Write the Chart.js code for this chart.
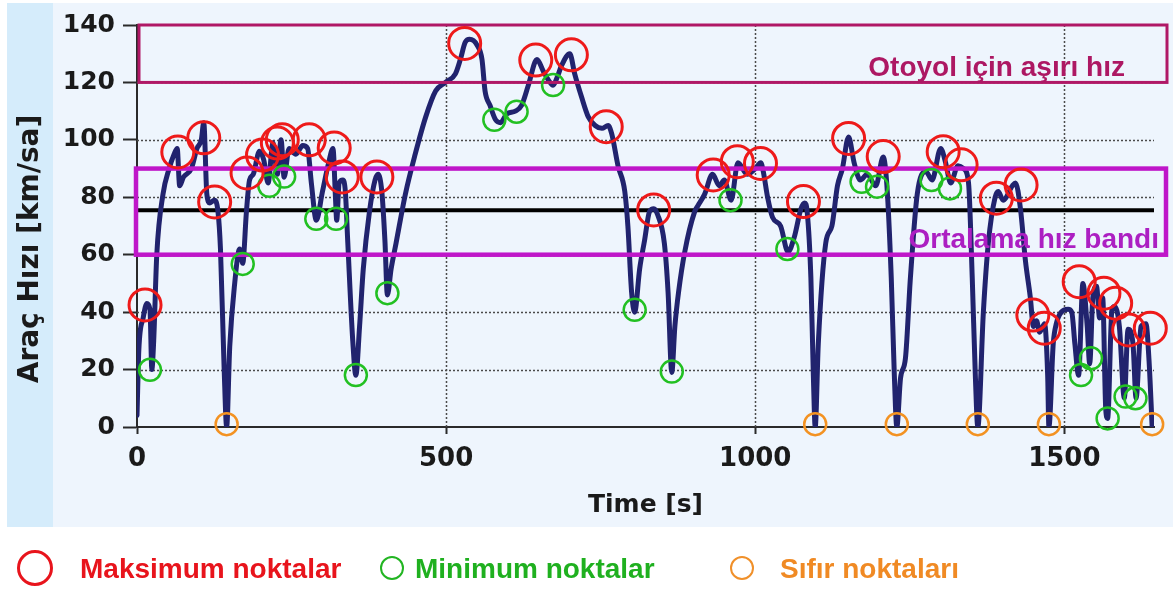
<!DOCTYPE html>
<html>
<head>
<meta charset="utf-8">
<script src="https://cdn.jsdelivr.net/npm/chart.js@4.4.1/dist/chart.umd.min.js"></script>
<style>
  html, body { margin: 0; padding: 0; background: #ffffff; }
  #wrap { position: relative; width: 1173px; height: 592px; overflow: hidden; }
  #c { display: block; }
  .lg-ring { position: absolute; border-radius: 50%; box-sizing: border-box; }
  .lg-text { position: absolute; top: 553px; height: 30px; line-height: 30px;
             font: bold 28px "Liberation Sans", Arial, sans-serif; white-space: nowrap; }
</style>
</head>
<body>
<div id="wrap">
  <canvas id="c" width="1173" height="592"></canvas>
  <div class="lg-ring" style="left:17px;top:550px;width:36px;height:36px;border:3px solid #e8141c;"></div>
  <div class="lg-text" style="left:80px;color:#e8141c;">Maksimum noktalar</div>
  <div class="lg-ring" style="left:380px;top:556px;width:24px;height:24px;border:2.5px solid #22b522;"></div>
  <div class="lg-text" style="left:415px;color:#1fb01f;">Minimum noktalar</div>
  <div class="lg-ring" style="left:730px;top:556px;width:24px;height:24px;border:2.5px solid #f0902a;"></div>
  <div class="lg-text" style="left:780px;color:#f08a24;">Sıfır noktaları</div>
</div>
<script>
// Vehicle speed trace [s, km/sa]
const timeS = [
  0, 3, 10, 16, 21, 24, 27, 32, 42, 52, 60, 65, 69, 75, 88, 97, 104, 108, 113, 118,
  125, 131, 135, 141, 145, 150, 158, 166, 171, 177, 182, 188, 198, 205, 212, 220, 227, 233, 238, 246,
  257, 268, 276, 282, 290, 300, 310, 317, 321, 323, 327, 333, 337, 341, 349, 354, 360, 366, 376, 385,
  390, 396, 401, 405, 411, 419, 434, 450, 467, 483, 499, 515, 523, 531, 538, 550, 558, 563, 571, 580,
  588, 598, 612, 622, 633, 647, 657, 665, 673, 680, 687, 700, 708, 719, 730, 741, 752, 762, 768, 778,
  789, 794, 800, 805, 813, 821, 829, 836, 842, 853, 859, 865, 870, 876, 886, 902, 907, 918, 931, 942,
  950, 961, 972, 987, 1000, 1009, 1013, 1020, 1028, 1041, 1053, 1063, 1074, 1080, 1084, 1090, 1094, 1097, 1102, 1114,
  1124, 1133, 1141, 1151, 1160, 1170, 1181, 1195, 1207, 1213, 1220, 1225, 1229, 1235, 1243, 1251, 1262, 1276, 1286, 1300,
  1308, 1316, 1328, 1337, 1345, 1351, 1356, 1360, 1369, 1377, 1388, 1393, 1401, 1416, 1421, 1429, 1437, 1445, 1450, 1455,
  1460, 1468, 1473, 1475, 1482, 1487, 1495, 1506, 1512, 1517, 1523, 1530, 1537, 1541, 1546, 1552, 1557, 1562, 1567, 1570,
  1577, 1581, 1589, 1597, 1603, 1611, 1616, 1624, 1632, 1637, 1642
];
const speedKmh = [
  4, 27, 38, 43, 41, 20, 30, 60, 81, 90, 95, 97, 84, 87, 90, 97, 100, 106, 81, 78,
  79, 75, 62, 20, 0, 28, 50, 62, 57, 75, 86, 88, 96, 93, 85, 99, 88, 100, 87, 97,
  95, 98, 97, 85, 72, 82, 92, 97, 80, 72, 85, 86, 82, 64, 30, 18, 35, 55, 75, 86,
  88, 82, 65, 46, 55, 64, 81, 95, 108, 117, 120, 123, 128, 134, 135, 133, 128, 117, 112, 107,
  106, 109, 110, 112, 119, 128, 124, 121, 119, 122, 126, 130, 123, 115, 108, 105, 104, 105, 102, 91,
  82, 70, 47, 40, 55, 65, 75, 76, 74, 64, 47, 19, 35, 47, 61, 75, 77, 81, 88, 84,
  86, 79, 92, 88, 90, 92, 89, 80, 73, 70, 61, 66, 76, 78, 75, 52, 18, 0, 29, 64,
  70, 84, 90, 101, 92, 86, 88, 84, 94, 84, 52, 18, 0, 17, 24, 52, 81, 89, 86, 97,
  92, 85, 91, 90, 85, 52, 18, 0, 40, 64, 80, 82, 79, 84, 85, 76, 58, 45, 35, 37,
  33, 36, 18, 0, 29, 36, 40, 41, 40, 29, 18, 50, 35, 22, 45, 49, 38, 45, 6, 3,
  41, 42, 35, 10, 34, 29, 10, 35, 36, 23, 0
];

// Detected extrema
const maxPointT = [13, 66, 108, 125.6, 178, 203, 227, 235, 278.6, 319, 332, 388, 530, 645, 702.6, 759, 835.7,
  932, 971, 1008.5, 1078, 1151, 1207, 1304, 1333, 1390, 1430, 1449, 1467.5, 1524, 1564, 1583, 1604, 1639];
const maxPointV = [42.5, 95.8, 100.7, 78.4, 88.5, 94.7, 98.9, 100, 100, 97.2, 87.1, 87.1, 133.6, 127.8, 129.6, 104.6, 75.6,
  87.8, 92.4, 91.8, 78.5, 100.5, 94.2, 95.9, 91.3, 79.7, 84.3, 39, 34.4, 50.6, 46.6, 43.1, 33.8, 34.4];
const minPointT = [21, 171, 214, 238, 290, 322, 354, 405, 578, 614, 673, 805, 865, 960, 1052, 1172, 1197, 1285, 1315,
  1527, 1543, 1570, 1599, 1615];
const minPointV = [19.9, 56.8, 84, 87.2, 72.5, 72.5, 18.1, 46.6, 107, 109.8, 119.1, 40.8, 19.3, 79, 62, 85.4, 83.7, 86, 83.1,
  18.1, 23.9, 3, 10.6, 10];
const zeroPointT = [145, 1097, 1229, 1360, 1475, 1642];
const zeroPointV = [1, 1, 1, 1, 1, 1];

// Reference levels
const meanSpeed = 75.5;
const avgBand = [60, 90];
const highwayBand = [120, 140];

// Axes
const xMax = 1645;
const xTicks = [0, 500, 1000, 1500];
const yTicks = [0, 20, 40, 60, 80, 100, 120, 140];
const xGridValues = [500, 1000, 1500];
const yGridValues = [20, 40, 60, 80, 100, 120];

const xTitle = 'Time [s]';
const yTitle = 'Araç Hızı [km/sa]';
const highwayLabel = 'Otoyol için aşırı hız';
const bandLabel = 'Ortalama hız bandı';

const zip = (xs, ys) => xs.map((x, i) => ({ x: x, y: ys[i] }));

const tickFont = '"DejaVu Sans", Verdana, sans-serif';

const backdrop = {
  id: 'backdrop',
  beforeDraw(chart) {
    const ctx = chart.ctx;
    ctx.save();
    ctx.fillStyle = '#ffffff';
    ctx.fillRect(0, 0, chart.width, chart.height);
    ctx.fillStyle = '#eef5fd';
    ctx.fillRect(7, 3, chart.width - 7, 524);
    ctx.fillStyle = '#d5ecfb';
    ctx.fillRect(7, 3, 46, 524);
    ctx.restore();
  },
  beforeDatasetsDraw(chart) {
    const ctx = chart.ctx, xs = chart.scales.x, ys = chart.scales.y, a = chart.chartArea;
    ctx.save();
    ctx.strokeStyle = '#4a4a4a';
    ctx.lineWidth = 1.5;
    ctx.setLineDash([2, 2]);
    yGridValues.forEach(v => {
      const y = Math.round(ys.getPixelForValue(v)) + 0.5;
      ctx.beginPath(); ctx.moveTo(a.left, y); ctx.lineTo(a.right, y); ctx.stroke();
    });
    xGridValues.forEach(v => {
      const x = Math.round(xs.getPixelForValue(v)) + 0.5;
      ctx.beginPath(); ctx.moveTo(x, a.top); ctx.lineTo(x, a.bottom); ctx.stroke();
    });
    ctx.restore();
  },
  afterDatasetDraw(chart, args) {
    // reference boxes sit on top of the speed trace, below the extrema rings
    if (chart.data.datasets[args.index].label !== 'Hız') return;
    const ctx = chart.ctx, xs = chart.scales.x, ys = chart.scales.y, a = chart.chartArea;
    ctx.save();
    // highway over-speed box
    const hTop = ys.getPixelForValue(highwayBand[1]);
    const hBot = ys.getPixelForValue(highwayBand[0]);
    const hLeft = xs.getPixelForValue(0) + 2;
    const hRight = a.right + 13;
    ctx.strokeStyle = '#b01866';
    ctx.lineWidth = 3;
    ctx.strokeRect(hLeft, hTop, hRight - hLeft, hBot - hTop);
    ctx.fillStyle = '#ad1863';
    ctx.font = 'bold 28px "Liberation Sans", Arial, sans-serif';
    ctx.textAlign = 'right';
    ctx.textBaseline = 'alphabetic';
    ctx.fillText(highwayLabel, hRight - 42, hBot - 6);
    // average speed band
    const bTop = ys.getPixelForValue(avgBand[1]);
    const bBot = ys.getPixelForValue(avgBand[0]);
    const bLeft = xs.getPixelForValue(0) - 1;
    const bRight = a.right + 12;
    ctx.strokeStyle = '#bf16c9';
    ctx.lineWidth = 4.5;
    ctx.strokeRect(bLeft, bTop, bRight - bLeft, bBot - bTop);
    ctx.fillStyle = '#ac1fc2';
    ctx.fillText(bandLabel, bRight - 7, bBot - 7);
    ctx.restore();
  },
  afterDraw(chart) {
    const ctx = chart.ctx, a = chart.chartArea;
    ctx.save();
    ctx.fillStyle = '#1a1a1a';
    ctx.textAlign = 'center';
    ctx.textBaseline = 'middle';
    ctx.font = 'bold 25px ' + tickFont;
    ctx.fillText(xTitle, (a.left + a.right) / 2, 505);
    ctx.font = 'bold 28px ' + tickFont;
    ctx.translate(31, 249);
    ctx.rotate(-Math.PI / 2);
    ctx.fillText(yTitle, 0, 0);
    ctx.restore();
  }
};

new Chart(document.getElementById('c'), {
  type: 'line',
  data: {
    datasets: [
      {
        label: 'Maksimum noktalar',
        data: zip(maxPointT, maxPointV),
        showLine: false,
        pointRadius: 16,
        pointHoverRadius: 16,
        pointBorderWidth: 3,
        pointBorderColor: '#ee1a1a',
        pointBackgroundColor: 'rgba(0,0,0,0)',
        clip: false,
        order: 0
      },
      {
        label: 'Minimum noktalar',
        data: zip(minPointT, minPointV),
        showLine: false,
        pointRadius: 11,
        pointHoverRadius: 11,
        pointBorderWidth: 2.5,
        pointBorderColor: '#22c022',
        pointBackgroundColor: 'rgba(0,0,0,0)',
        clip: false,
        order: 1
      },
      {
        label: 'Sıfır noktaları',
        data: zip(zeroPointT, zeroPointV),
        showLine: false,
        pointRadius: 11,
        pointHoverRadius: 11,
        pointBorderWidth: 2.5,
        pointBorderColor: '#f39222',
        pointBackgroundColor: 'rgba(0,0,0,0)',
        clip: false,
        order: 2
      },
      {
        label: 'Hız',
        data: zip(timeS, speedKmh),
        borderColor: '#21236e',
        borderWidth: 5,
        pointRadius: 0,
        cubicInterpolationMode: 'monotone',
        borderJoinStyle: 'round',
        borderCapStyle: 'round',
        order: 3
      },
      {
        label: 'Ortalama',
        data: [{ x: 0, y: meanSpeed }, { x: xMax, y: meanSpeed }],
        borderColor: '#000000',
        borderWidth: 4,
        pointRadius: 0,
        order: 4
      }
    ]
  },
  options: {
    responsive: false,
    devicePixelRatio: 1,
    animation: false,
    events: [],
    layout: { padding: { left: 0, right: 15, top: 25, bottom: 65 } },
    plugins: { legend: { display: false }, tooltip: { enabled: false } },
    scales: {
      x: {
        type: 'linear',
        min: 0,
        max: xMax,
        afterBuildTicks: s => { s.ticks = xTicks.map(v => ({ value: v })); },
        afterFit: s => { s.height = 100; },
        grid: { drawOnChartArea: false, drawTicks: true, tickLength: 7, tickColor: '#2a2a2a', tickWidth: 2 },
        border: { display: true, color: '#2a2a2a', width: 2 },
        ticks: { color: '#1a1a1a', padding: 10, maxRotation: 0, callback: v => String(v),
                 font: { family: tickFont, size: 26, weight: 'bold' } }
      },
      y: {
        type: 'linear',
        min: 0,
        max: 140,
        afterBuildTicks: s => { s.ticks = yTicks.map(v => ({ value: v })); },
        afterFit: s => { s.width = 137; },
        grid: { drawOnChartArea: false, drawTicks: true, tickLength: 14, tickColor: '#2a2a2a', tickWidth: 2 },
        border: { display: true, color: '#2a2a2a', width: 2 },
        ticks: { color: '#1a1a1a', padding: 8, callback: v => String(v),
                 font: { family: tickFont, size: 25, weight: 'bold' } }
      }
    }
  },
  plugins: [backdrop]
});
</script>
</body>
</html>
